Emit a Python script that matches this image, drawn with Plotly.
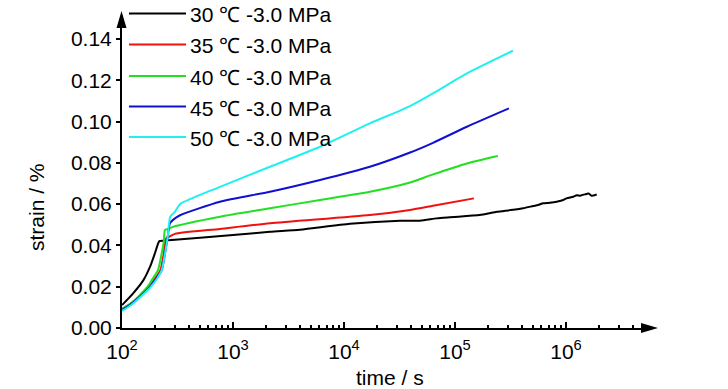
import plotly.graph_objects as go

# ---------------- data ----------------
t_30 = [100, 126, 156, 179, 198, 217, 236, 281, 1000, 2154, 4000, 11300, 32000, 48400,
        68400, 90200, 127000, 180000, 238000, 313000, 412000, 507000, 560000, 624000,
        718000, 824000, 946000, 1010000, 1160000, 1250000, 1340000, 1420000, 1530000,
        1600000, 1700000, 1890000]
s_30 = [0.0111, 0.0168, 0.0232, 0.0297, 0.0362, 0.0421, 0.0423, 0.0426, 0.0450, 0.0466,
        0.0476, 0.0505, 0.0520, 0.0520, 0.0531, 0.0536, 0.0542, 0.0550, 0.0563, 0.0571,
        0.0580, 0.0591, 0.0596, 0.0604, 0.0607, 0.0612, 0.0620, 0.0628, 0.0636, 0.0643,
        0.0641, 0.0645, 0.0649, 0.0652, 0.0641, 0.0647]

t_35 = [100, 120, 142, 175, 205, 222, 238, 250, 270, 300, 764, 2154, 17100, 39400,
        63400, 148000]
s_35 = [0.0092, 0.0118, 0.0152, 0.0200, 0.0250, 0.0280, 0.0362, 0.0434, 0.0444, 0.0456,
        0.0480, 0.0507, 0.0547, 0.0572, 0.0592, 0.0628]

t_40 = [100, 120, 140, 170, 195, 211, 228, 238, 244, 260, 288, 764, 2154, 6080, 17100,
        39400, 63400, 128000, 243000]
s_40 = [0.0093, 0.0120, 0.0152, 0.0200, 0.0250, 0.0280, 0.0362, 0.0420, 0.0475, 0.0480,
        0.0490, 0.0539, 0.0580, 0.0620, 0.0660, 0.0705, 0.0744, 0.0797, 0.0833]

t_45 = [100, 120, 145, 179, 210, 228, 244, 258, 270, 290, 330, 764, 2154, 6080, 17100,
        39400, 63400, 128000, 306000]
s_45 = [0.0088, 0.0115, 0.0152, 0.0200, 0.0250, 0.0280, 0.0362, 0.0442, 0.0507, 0.0525,
        0.0545, 0.0612, 0.0660, 0.0717, 0.0781, 0.0850, 0.0897, 0.0975, 0.1064]

t_50 = [100, 120, 145, 179, 210, 228, 244, 258, 272, 300, 333, 764, 2154, 6080, 17100,
        39400, 63400, 128000, 333000]
s_50 = [0.0083, 0.0110, 0.0148, 0.0195, 0.0245, 0.0280, 0.0360, 0.0440, 0.0539, 0.0563,
        0.0600, 0.0684, 0.0781, 0.0878, 0.0991, 0.1075, 0.1136, 0.1233, 0.1343]

series_names = ["30 ℃ -3.0 MPa", "35 ℃ -3.0 MPa", "40 ℃ -3.0 MPa",
                "45 ℃ -3.0 MPa", "50 ℃ -3.0 MPa"]
series_t = [t_30, t_35, t_40, t_45, t_50]
series_s = [s_30, s_35, s_40, s_45, s_50]
colors = ["#000000", "#f01010", "#20e020", "#1010d0", "#20f0f0"]

y_ticks = [0.00, 0.02, 0.04, 0.06, 0.08, 0.10, 0.12, 0.14]
x_exponents = [2, 3, 4, 5, 6]
x_major_ticks = [10 ** e for e in x_exponents]
x_major_text = [f"10<sup>{e}</sup>" for e in x_exponents]
x_minor_ticks = [m * 10 ** e for e in range(2, 7) for m in range(2, 10)]

# ---------------- layout geometry ----------------
W, H = 728, 389
L, R, T, B = 122, 86, 27, 61
PW, PH = W - L - R, H - T - B

def px_x(px):
    return (px - L) / PW

def px_y(py):
    return (H - B - py) / PH

FONT = "Liberation Sans, Arial, sans-serif"
FS = 21

fig = go.Figure()
for name, t, s, c in zip(series_names, series_t, series_s, colors):
    fig.add_trace(go.Scatter(x=t, y=s, mode="lines", name=name,
                             line=dict(color=c, width=2, shape="spline", smoothing=0.6),
                             showlegend=False))

shapes = []
annotations = []

# manual legend
legend_rows = [13.5, 44.5, 76, 106.5, 137]
for name, c, ry in zip(series_names, colors, legend_rows):
    shapes.append(dict(type="line", xref="paper", yref="paper",
                       x0=px_x(129), x1=px_x(186), y0=px_y(ry), y1=px_y(ry),
                       line=dict(color=c, width=2)))
    annotations.append(dict(xref="paper", yref="paper", x=px_x(188), y=px_y(ry + 1.5),
                            xanchor="left", yanchor="middle", showarrow=False,
                            text=name, font=dict(family=FONT, size=FS, color="black")))

# axis arrowheads
shapes.append(dict(type="path", xref="paper", yref="paper",
                   path=f"M {px_x(641)},{px_y(323)} L {px_x(658)},{px_y(328)} L {px_x(641)},{px_y(333)} Z",
                   fillcolor="black", line=dict(color="black", width=0)))
shapes.append(dict(type="path", xref="paper", yref="paper",
                   path=f"M {px_x(116.5)},{px_y(28)} L {px_x(121.5)},{px_y(11)} L {px_x(126.5)},{px_y(28)} Z",
                   fillcolor="black", line=dict(color="black", width=0)))

# axis titles
annotations.append(dict(xref="paper", yref="paper", x=px_x(390), y=px_y(377),
                        xanchor="center", yanchor="middle", showarrow=False,
                        text="time / s", font=dict(family=FONT, size=FS, color="black")))
annotations.append(dict(xref="paper", yref="paper", x=px_x(37), y=px_y(207),
                        xanchor="center", yanchor="middle", showarrow=False, textangle=-90,
                        text="strain / %", font=dict(family=FONT, size=FS, color="black")))

fig.update_layout(
    width=W, height=H,
    margin=dict(l=L, r=R, t=T, b=B, pad=0),
    paper_bgcolor="white", plot_bgcolor="white",
    font=dict(family=FONT, size=FS, color="black"),
    shapes=shapes, annotations=annotations,
    showlegend=False,
)
fig.update_xaxes(
    type="log", range=[2, 2 + PW / 111.0],
    tickmode="array", tickvals=x_major_ticks, ticktext=x_major_text,
    showgrid=False, zeroline=False, showline=True, linecolor="black", linewidth=2,
    ticks="inside", ticklen=6, tickwidth=1.5, tickcolor="black",
    minor=dict(ticks="inside", ticklen=3.5, tickwidth=1.5, tickcolor="black",
               tickmode="array", tickvals=x_minor_ticks, showgrid=False),
    tickfont=dict(family=FONT, size=FS, color="black"),
    ticklabelstandoff=4,
)
fig.update_yaxes(
    range=[0, 0.14 + (39 - T) / 2065.0], tickvals=y_ticks,
    ticktext=[f"{v:.2f}" for v in y_ticks],
    showgrid=False, zeroline=False, showline=True, linecolor="black", linewidth=2,
    ticks="outside", ticklen=4, tickwidth=1.5, tickcolor="black",
    tickfont=dict(family=FONT, size=FS, color="black"),
)

fig.write_html(
    "out.html",
    config={"displayModeBar": False},
    post_script="document.body.style.margin='0';document.body.style.overflow='hidden';",
)
